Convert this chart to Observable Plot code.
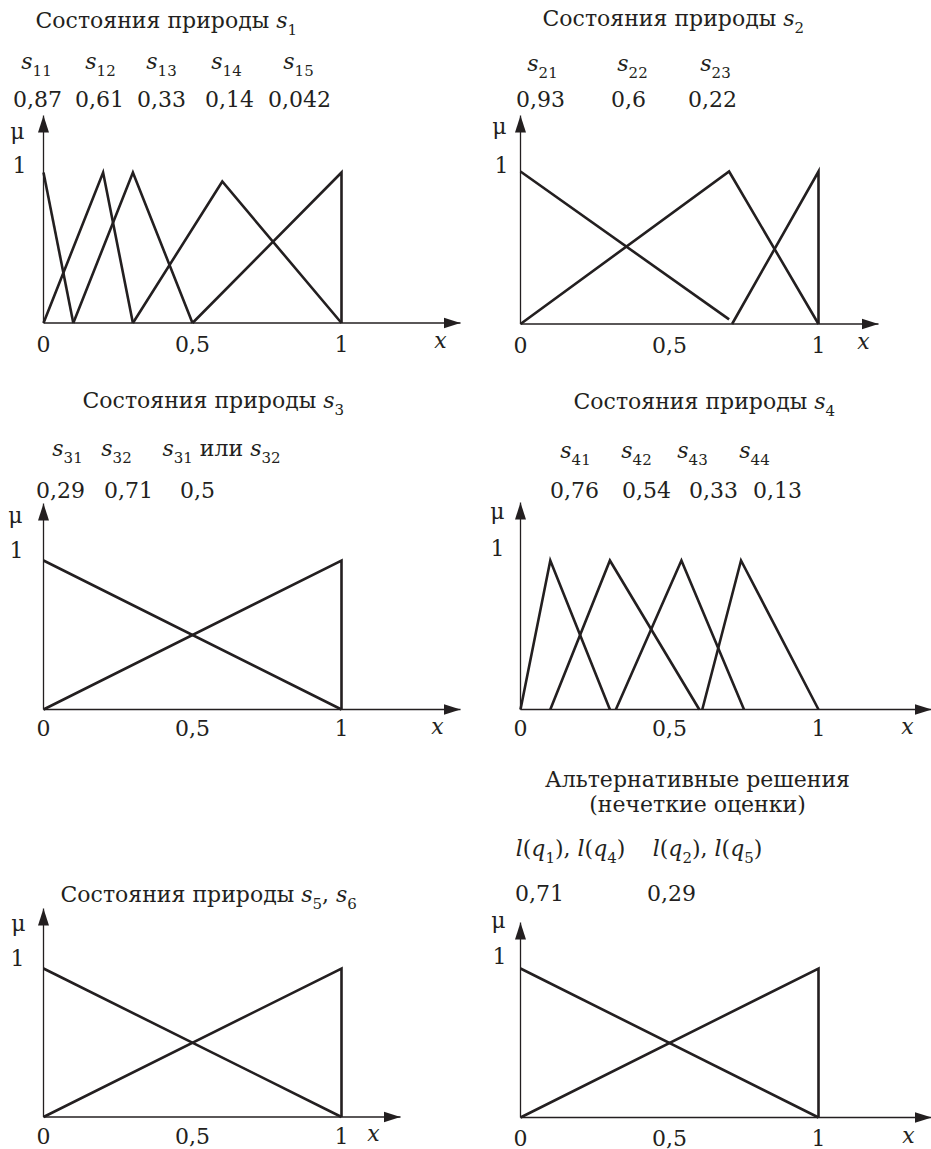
<!DOCTYPE html>
<html>
<head>
<meta charset="utf-8">
<script src="https://cdn.jsdelivr.net/npm/d3@7"></script>
<script src="https://cdn.jsdelivr.net/npm/@observablehq/plot@0.6"></script>
<style>
  body { margin: 0; background: white; }
  #chart { position: relative; width: 931px; height: 1149px; background: white; overflow: hidden; }
  #chart svg { position: absolute; }
</style>
</head>
<body>
<div id="chart"></div>
<script>
// ---------------- data ----------------
const xTicks = [0, 0.5, 1];
const xTickLabels = ["0", "0,5", "1"];
const yTickLabel = "1";
const yAxisLabel = "μ";
const xAxisLabel = "x";

const titles = [
  "Состояния природы *s*_{1}",
  "Состояния природы *s*_{2}",
  "Состояния природы *s*_{3}",
  "Состояния природы *s*_{4}",
  "Состояния природы *s*_{5}, *s*_{6}",
  "Альтернативные решения\n(нечеткие оценки)"
];

const s1Labels = ["*s*_{11}", "*s*_{12}", "*s*_{13}", "*s*_{14}", "*s*_{15}"];
const s1Values = [0.87, 0.61, 0.33, 0.14, 0.042];
const s1X  = [[0, 0.1], [0, 0.2, 0.3], [0.1, 0.3, 0.5], [0.3, 0.6, 1], [0.5, 1, 1]];
const s1Mu = [[1, 0],   [0, 1, 0],     [0, 1, 0],       [0, 0.94, 0],  [0, 1, 0]];

const s2Labels = ["*s*_{21}", "*s*_{22}", "*s*_{23}"];
const s2Values = [0.93, 0.6, 0.22];
const s2X  = [[0, 0.7],  [0, 0.7, 1], [0.71, 1, 1]];
const s2Mu = [[1, 0.03], [0, 1, 0],   [0, 1, 0]];

const s3Labels = ["*s*_{31}", "*s*_{32}", "*s*_{31} или *s*_{32}"];
const s3Values = [0.29, 0.71, 0.5];
const s3X  = [[0, 1], [0, 1, 1]];
const s3Mu = [[1, 0], [0, 1, 0]];

const s4Labels = ["*s*_{41}", "*s*_{42}", "*s*_{43}", "*s*_{44}"];
const s4Values = [0.76, 0.54, 0.33, 0.13];
const s4X  = [[0, 0.1, 0.3], [0.1, 0.3, 0.6], [0.32, 0.54, 0.75], [0.61, 0.74, 1]];
const s4Mu = [[0, 1, 0],     [0, 1, 0],       [0, 1, 0],          [0, 1, 0]];

const s56Labels = [];
const s56Values = [];
const s56X  = [[0, 1], [0, 1, 1]];
const s56Mu = [[1, 0], [0, 1, 0]];

const altLabels = ["*l*(*q*_{1}), *l*(*q*_{4})", "*l*(*q*_{2}), *l*(*q*_{5})"];
const altValues = [0.71, 0.29];
const altX  = [[0, 1], [0, 1, 1]];
const altMu = [[1, 0], [0, 1, 0]];

// ---------------- layout (panel-local pixels) ----------------
const layout = [
  {left: 0, top: 0, w: 465, h: 370, ox: 43, oy: 322.5, x1: 341, y1: 172, yTop: 115, xEnd: 460,
   title: {x: 35, y: 27, anchor: "start"}, labelY: 68, labelX: [36, 100, 161, 226, 298],
   valueY: 106, valueX: [37, 99, 161, 229, 299], mu: {x: 17, y: 138}, one: {x: 19, y: 172},
   tickY: 351, xl: {x: 440, y: 347}},
  {left: 465, top: 0, w: 466, h: 370, ox: 55, oy: 323.5, x1: 353, y1: 171, yTop: 115, xEnd: 413,
   title: {x: 77, y: 25, anchor: "start"}, labelY: 70, labelX: [77, 167, 250],
   valueY: 106, valueX: [75, 163, 247], mu: {x: 34, y: 133}, one: {x: 36, y: 172},
   tickY: 352, xl: {x: 398, y: 348}},
  {left: 0, top: 370, w: 465, h: 380, ox: 43, oy: 339, x1: 341, y1: 190, yTop: 133, xEnd: 460,
   title: {x: 82, y: 37, anchor: "start"}, labelY: 85, labelX: [67, 116, 221],
   valueY: 127, valueX: [60, 128, 197], mu: {x: 15, y: 152}, one: {x: 16, y: 187},
   tickY: 365, xl: {x: 437, y: 363}},
  {left: 465, top: 370, w: 466, h: 380, ox: 55, oy: 339, x1: 353, y1: 190, yTop: 132, xEnd: 466,
   title: {x: 108, y: 38, anchor: "start"}, labelY: 87, labelX: [110, 171, 227, 289],
   valueY: 127, valueX: [109, 181, 248, 312], mu: {x: 32, y: 148}, one: {x: 32, y: 185},
   tickY: 365, xl: {x: 442, y: 363}},
  {left: 0, top: 750, w: 465, h: 399, ox: 43, oy: 366.5, x1: 341, y1: 218, yTop: 158, xEnd: 400,
   title: {x: 60, y: 151, anchor: "start"}, labelY: 0, labelX: [],
   valueY: 0, valueX: [], mu: {x: 18, y: 180}, one: {x: 17, y: 215},
   tickY: 393, xl: {x: 373, y: 390}},
  {left: 465, top: 750, w: 466, h: 399, ox: 55, oy: 367, x1: 353, y1: 218, yTop: 172, xEnd: 466,
   title: {x: 232, y: 61, anchor: "middle"}, labelY: 105, labelX: [105, 242],
   valueY: 150, valueX: [74, 206], mu: {x: 33, y: 177}, one: {x: 34, y: 213},
   tickY: 395, xl: {x: 443, y: 392}}
];

const panels = [
  {labels: s1Labels, values: s1Values, xs: s1X, mus: s1Mu},
  {labels: s2Labels, values: s2Values, xs: s2X, mus: s2Mu},
  {labels: s3Labels, values: s3Values, xs: s3X, mus: s3Mu},
  {labels: s4Labels, values: s4Values, xs: s4X, mus: s4Mu},
  {labels: s56Labels, values: s56Values, xs: s56X, mus: s56Mu},
  {labels: altLabels, values: altValues, xs: altX, mus: altMu}
];

// ---------------- styles ----------------
const INK = "#231f20";
const FONT = "'DejaVu Serif', 'Liberation Serif', serif";
const FS = 22;
const SUB_FS = 15;
const SUB_DY = 7;
const NS = "http://www.w3.org/2000/svg";
const fmt = v => String(v).replace(".", ",");

function arrowHead(color, context) {
  const doc = (context && context.document) || document;
  const m = doc.createElementNS(NS, "marker");
  m.setAttribute("viewBox", "-17 -6 17 12");
  m.setAttribute("refX", "0");
  m.setAttribute("refY", "0");
  m.setAttribute("markerWidth", "17");
  m.setAttribute("markerHeight", "12");
  m.setAttribute("markerUnits", "userSpaceOnUse");
  m.setAttribute("orient", "auto");
  const p = doc.createElementNS(NS, "path");
  p.setAttribute("d", "M-17,-5.5L0,0L-17,5.5Z");
  p.setAttribute("fill", color);
  p.setAttribute("stroke", "none");
  m.appendChild(p);
  return m;
}

// turn "*s*_{11}" markup into italic + subscript tspans
function richify(svg) {
  svg.querySelectorAll("text").forEach(t => {
    if (t.querySelector("tspan")) return;
    const s = t.textContent;
    if (!/[*]|_\{/.test(s)) return;
    t.textContent = "";
    const parts = s.split(/(\*[^*]+\*|_\{[^}]+\})/).filter(p => p);
    let shifted = 0;
    for (const p of parts) {
      const ts = document.createElementNS(NS, "tspan");
      let dy = 0;
      if (p.startsWith("*")) {
        ts.textContent = p.slice(1, -1);
        ts.setAttribute("font-style", "italic");
      } else if (p.startsWith("_{")) {
        ts.textContent = p.slice(2, -1);
        ts.setAttribute("font-size", SUB_FS);
        dy = SUB_DY;
      } else {
        ts.textContent = p;
      }
      if (dy !== shifted) { ts.setAttribute("dy", dy - shifted); shifted = dy; }
      t.appendChild(ts);
    }
  });
}

function drawPanel(cfg, d) {
  const X = p => (p - cfg.ox) / (cfg.x1 - cfg.ox);
  const Y = p => (cfg.oy - p) / (cfg.oy - cfg.y1);
  const curves = d.xs.flatMap((xs, i) => xs.map((x, j) => ({id: i, x, y: d.mus[i][j]})));
  const axes = [
    {x1: 0, y1: 0, x2: 0, y2: Y(cfg.yTop)},
    {x1: 0, y1: 0, x2: X(cfg.xEnd), y2: 0}
  ];
  const textOpts = {fontFamily: FONT, fontSize: FS, fill: INK, lineAnchor: "bottom"};
  const marks = [
    Plot.link(axes, {x1: "x1", y1: "y1", x2: "x2", y2: "y2", stroke: INK, strokeWidth: 1.3, markerEnd: arrowHead}),
    Plot.line(curves, {x: "x", y: "y", z: "id", stroke: INK, strokeWidth: 2.6,
                       strokeLinejoin: "miter", strokeLinecap: "butt", strokeMiterlimit: 6}),
    Plot.text(xTicks, {...textOpts, x: v => v, y: () => Y(cfg.tickY), text: (v, i) => xTickLabels[i], textAnchor: "middle"}),
    Plot.text([xAxisLabel], {...textOpts, x: () => X(cfg.xl.x), y: () => Y(cfg.xl.y), text: v => v, fontStyle: "italic", textAnchor: "middle"}),
    Plot.text([yAxisLabel], {...textOpts, x: () => X(cfg.mu.x), y: () => Y(cfg.mu.y), text: v => v, textAnchor: "middle"}),
    Plot.text([yTickLabel], {...textOpts, x: () => X(cfg.one.x), y: () => Y(cfg.one.y), text: v => v, textAnchor: "middle"}),
    Plot.text([cfg.titleText], {...textOpts, x: () => X(cfg.title.x), y: () => Y(cfg.title.y), text: v => v,
                                textAnchor: cfg.title.anchor, lineHeight: 1.12}),
    Plot.text(d.labels, {...textOpts, x: (v, i) => X(cfg.labelX[i]), y: () => Y(cfg.labelY), text: v => v, textAnchor: "middle"}),
    Plot.text(d.values, {...textOpts, x: (v, i) => X(cfg.valueX[i]), y: () => Y(cfg.valueY), text: v => fmt(v), textAnchor: "middle"})
  ];
  const svg = Plot.plot({
    width: cfg.w,
    height: cfg.h,
    margin: 0,
    style: {fontFamily: FONT, fontSize: FS + "px", color: INK, background: "transparent", overflow: "visible"},
    x: {domain: [0, 1], range: [cfg.ox, cfg.x1], axis: null},
    y: {domain: [0, 1], range: [cfg.oy, cfg.y1], axis: null},
    marks
  });
  richify(svg);
  svg.style.left = cfg.left + "px";
  svg.style.top = cfg.top + "px";
  return svg;
}

const root = document.getElementById("chart");
layout.forEach((cfg, i) => {
  cfg.titleText = titles[i];
  root.appendChild(drawPanel(cfg, panels[i]));
});
</script>
</body>
</html>
